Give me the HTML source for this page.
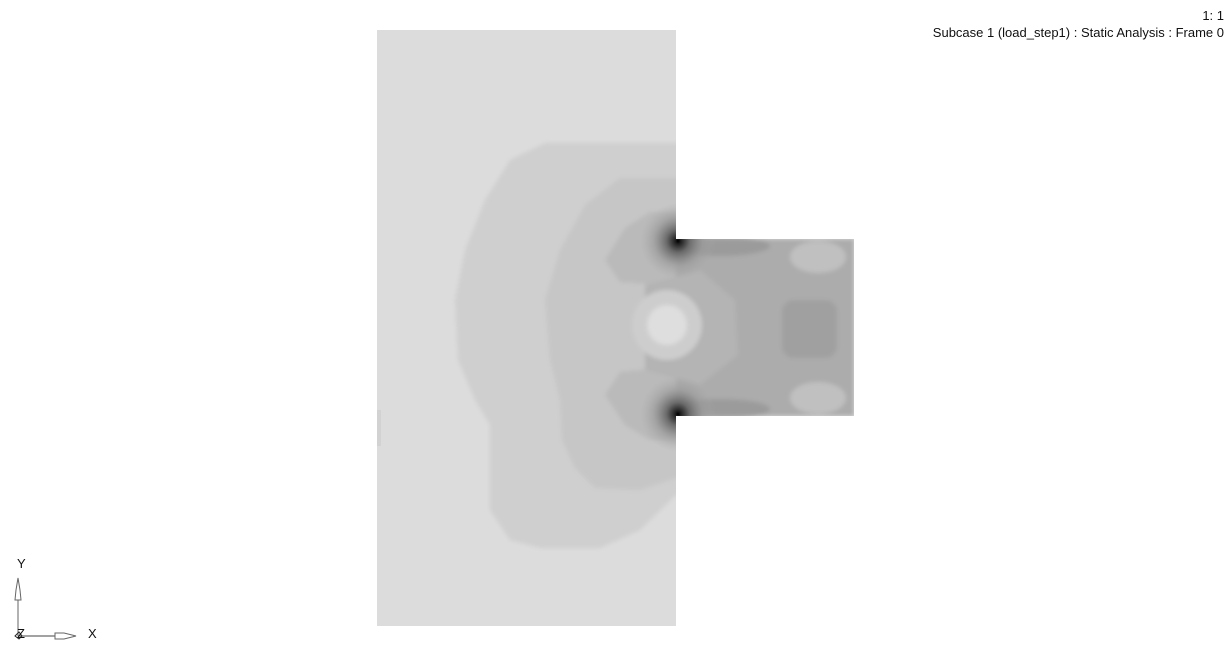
<!DOCTYPE html>
<html><head><meta charset="utf-8"><style>
html,body{margin:0;padding:0;background:#fff;width:1232px;height:656px;overflow:hidden}
svg{position:absolute;left:0;top:0}
.t{font-family:"Liberation Sans",sans-serif;font-size:13px;fill:#111}
</style></head><body>
<svg width="1232" height="656">
<defs>
<filter id="b" x="-20%" y="-20%" width="140%" height="140%"><feGaussianBlur stdDeviation="2"/></filter>
<radialGradient id="hotT" cx="678" cy="241" r="38" gradientUnits="userSpaceOnUse">
<stop offset="0" stop-color="#000"/><stop offset="0.08" stop-color="#222"/><stop offset="0.3" stop-color="#6a6a6a"/><stop offset="0.65" stop-color="#989898" stop-opacity="0.6"/><stop offset="1" stop-color="#aaa" stop-opacity="0"/></radialGradient>
<radialGradient id="hotB" cx="678" cy="414" r="38" gradientUnits="userSpaceOnUse">
<stop offset="0" stop-color="#000"/><stop offset="0.08" stop-color="#222"/><stop offset="0.3" stop-color="#6a6a6a"/><stop offset="0.65" stop-color="#989898" stop-opacity="0.6"/><stop offset="1" stop-color="#aaa" stop-opacity="0"/></radialGradient>
<clipPath id="part"><path d="M377 30H676V239H854V416H676V626H377Z"/></clipPath>
</defs>
<g clip-path="url(#part)">
<rect x="377" y="30" width="477" height="596" fill="#dcdcdc"/>
<g filter="url(#b)">
<path fill="#cfcfcf" d="M700 143H545L510 160L485 200L465 250L455 300L458 360L475 400L490 425L490 510L510 540L540 548H600L640 530L676 495L700 495Z"/>
<path fill="#c6c6c6" d="M700 178H620L585 205L560 250L545 300L550 360L560 400L562 440L575 468L595 488L640 490L700 470Z"/>
<path fill="#bababa" d="M700 212L650 212L625 228L605 260L620 282L660 285L700 280Z M700 440L650 440L625 425L605 395L620 372L660 368L700 372Z"/>
<rect x="676" y="239" width="178" height="177" fill="#acacac"/>
<path fill="#b4b4b4" d="M645 285L700 270L735 300L738 355L700 385L645 370Z"/>
<circle cx="667" cy="325" r="35" fill="#cdcdcd"/>
<circle cx="667" cy="325" r="20" fill="#dedede"/>
<rect x="782" y="300" width="55" height="58" rx="12" fill="#a0a0a0"/>
<ellipse cx="818" cy="257" rx="28" ry="16" fill="#c0c0c0"/>
<ellipse cx="818" cy="398" rx="28" ry="16" fill="#c0c0c0"/>
<ellipse cx="720" cy="246" rx="50" ry="10" fill="#8e8e8e" opacity="0.55"/>
<ellipse cx="720" cy="409" rx="50" ry="10" fill="#8e8e8e" opacity="0.55"/>
</g>
<circle cx="678" cy="241" r="38" fill="url(#hotT)"/>
<circle cx="678" cy="414" r="38" fill="url(#hotB)"/>
<rect x="377" y="410" width="4" height="36" fill="#d2d2d2"/>
</g>
<text class="t" x="1224" y="20" text-anchor="end">1: 1</text>
<text class="t" x="1224" y="37" text-anchor="end">Subcase 1 (load_step1) : Static Analysis : Frame 0</text>
<g stroke="#666" fill="none" stroke-width="1">
<line x1="18" y1="578" x2="18" y2="636"/>
<path d="M18 578L16 590L15 600H21L20 590Z" fill="#fff"/>
<line x1="18" y1="636" x2="76" y2="636" stroke="#444"/>
<path d="M55 633H64L76 636L64 639H55Z" fill="#fff"/>
<path d="M15 636L19 632L22 636L19 639Z" stroke="#222"/>
</g>
<text class="t" x="17" y="568" font-size="12">Y</text>
<text class="t" x="17" y="638" font-size="12">Z</text>
<text class="t" x="88" y="638" font-size="12">X</text>
</svg>
</body></html>
